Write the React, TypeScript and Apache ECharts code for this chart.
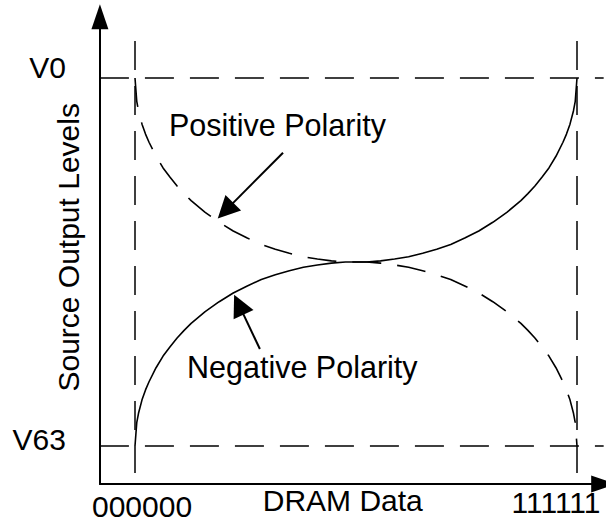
import React, { useEffect, useRef } from 'react';
import * as echarts from 'echarts';

// DRAM input code (0 = 000000, 63 = 111111)
const dramCodes = [0, 0.25, 0.5, 1, 1.5, 2, 3, 4, 5, 6, 7, 8, 10, 12, 14, 16, 18, 20, 22, 24, 26, 28, 30, 31.5, 33, 35, 37, 39, 41, 43, 45, 47, 49, 51, 53, 55, 56, 57, 58, 59, 60, 61, 61.5, 62, 62.5, 62.75, 63];
// Output level height (0 = V63 line, 63 = V0 line)
const negativeLevels = [0, 4.0, 5.6, 7.9, 9.6, 11.0, 13.4, 15.4, 17.0, 18.5, 19.8, 21.0, 23.0, 24.7, 26.2, 27.4, 28.5, 29.3, 30.0, 30.6, 31.0, 31.3, 31.5, 31.5, 31.5, 31.7, 32.0, 32.4, 33.0, 33.7, 34.5, 35.6, 36.8, 38.3, 40.0, 42.0, 43.2, 44.5, 46.0, 47.6, 49.6, 52.0, 53.4, 55.1, 57.4, 59.0, 63];
const positiveLevels = [63, 59.0, 57.4, 55.1, 53.4, 52.0, 49.6, 47.6, 46.0, 44.5, 43.2, 42.0, 40.0, 38.3, 36.8, 35.6, 34.5, 33.7, 33.0, 32.4, 32.0, 31.7, 31.5, 31.5, 31.5, 31.3, 31.0, 30.6, 30.0, 29.3, 28.5, 27.4, 26.2, 24.7, 23.0, 21.0, 19.8, 18.5, 17.0, 15.4, 13.4, 11.0, 9.6, 7.9, 5.6, 4.0, 0];

const xTickValues = [0, 63];
const xTickLabels = ['000000', '111111'];
const yTickValues = [63, 0];
const yTickLabels = ['V0', 'V63'];

export default function App() {
  const ref = useRef<HTMLDivElement>(null);
  useEffect(() => {
    document.body.style.overflow = 'hidden';
    const chart = echarts.init(ref.current!, null, { renderer: 'svg' });
    const font = "'Liberation Sans', Arial, Helvetica, sans-serif";
    const sx = 442 / 63;
    const sy = 368 / 63;
    const xMin = -5, xMax = 66.8, yMin = -6.5, yMax = 73.5;
    const gridLeft = 135 + xMin * sx;
    const gridTop = 78 - (yMax - 63) * sy;
    const dash = [29, 16];
    const black = '#000';
    const txt = (extra: any = {}) => ({ fontFamily: font, fontSize: 30, color: black, ...extra });

    const option: any = {
      animation: false,
      grid: {
        left: gridLeft,
        top: gridTop,
        width: (xMax - xMin) * sx,
        height: (yMax - yMin) * sy,
        containLabel: false,
        outerBoundsMode: 'none',
      },
      xAxis: {
        type: 'value',
        min: xMin,
        max: xMax,
        axisLine: {
          show: true,
          onZero: false,
          symbol: ['none', 'triangle'],
          symbolSize: [17, 25],
          lineStyle: { color: black, width: 2 },
        },
        axisTick: { show: false },
        splitLine: { show: false },
        axisLabel: {
          customValues: xTickValues,
          margin: 4,
          formatter: (v: number) => (v === xTickValues[0] ? `{a|${xTickLabels[0]}}` : `{b|${xTickLabels[1]}}`),
          rich: {
            a: txt({ padding: [4, 0, 0, 14] }),
            b: txt({ padding: [0, 42, 0, 0] }),
          },
        },
        name: 'DRAM Data',
        nameLocation: 'middle',
        nameGap: 2,
        nameMoveOverlap: false,
        nameTextStyle: txt({ padding: [0, 18, 0, 0] }),
      },
      yAxis: {
        type: 'value',
        min: yMin,
        max: yMax,
        axisLine: {
          show: true,
          onZero: false,
          symbol: ['none', 'triangle'],
          symbolSize: [17, 25],
          lineStyle: { color: black, width: 2 },
        },
        axisTick: { show: false },
        splitLine: { show: false },
        axisLabel: {
          customValues: yTickValues,
          margin: 34,
          formatter: (v: number) => (v === yTickValues[0] ? `{a|${yTickLabels[0]}}` : `{b|${yTickLabels[1]}}`),
          rich: {
            a: txt({ padding: [0, 0, 21, 0] }),
            b: txt({ padding: [0, 0, 13, 0] }),
          },
        },
        name: 'Source Output Levels',
        nameLocation: 'middle',
        nameGap: 16,
        nameMoveOverlap: false,
        nameTextStyle: txt({ padding: [0, 0, 0, 6] }),
      },
      graphic: [
        { type: 'text', x: 169, y: 124.5, silent: true, style: { text: 'Positive Polarity', font: `30.5px ${font}`, fill: black, verticalAlign: 'middle' } },
        { type: 'text', x: 187, y: 367, silent: true, style: { text: 'Negative Polarity', font: `30.5px ${font}`, fill: black, verticalAlign: 'middle' } },
      ],
      series: [
        {
          type: 'line',
          name: 'Negative Polarity',
          data: dramCodes.map((x, i) => [x, negativeLevels[i]]),
          showSymbol: false,
          symbol: 'none',
          silent: true,
          lineStyle: { color: black, width: 1.6 },
          markLine: {
            silent: true,
            symbol: ['none', 'none'],
            label: { show: false },
            lineStyle: { color: black, width: 1.5, type: dash },
            emphasis: { disabled: true },
            data: [
              [{ coord: [xMin, 63] }, { coord: [xMax, 63] }],
              [{ coord: [xMin, 0] }, { coord: [xMax, 0] }],
              [{ coord: [0, 69.34] }, { coord: [0, -4.62] }],
              [{ coord: [63, 69.34] }, { coord: [63, -4.62] }],
            ],
          },
        },
        {
          type: 'line',
          name: 'Positive Polarity',
          data: dramCodes.map((x, i) => [x, positiveLevels[i]]),
          showSymbol: false,
          symbol: 'none',
          silent: true,
          lineStyle: { color: black, width: 1.6, type: dash },
          markLine: {
            silent: true,
            symbol: ['none', 'triangle'],
            symbolSize: 22,
            label: { show: false },
            lineStyle: { color: black, width: 2, type: 'solid' },
            itemStyle: { color: black },
            emphasis: { disabled: true },
            data: [
              [{ coord: [21.1, 50.2] }, { coord: [12.9, 40.3] }],
              [{ coord: [17.8, 16.6] }, { coord: [14.8, 24.2] }],
            ],
          },
        },
      ],
    };
    chart.setOption(option);
    return () => chart.dispose();
  }, []);
  return <div ref={ref} style={{ position: 'fixed', left: 0, top: 0, width: 640, height: 526, background: '#fff' }} />;
}
